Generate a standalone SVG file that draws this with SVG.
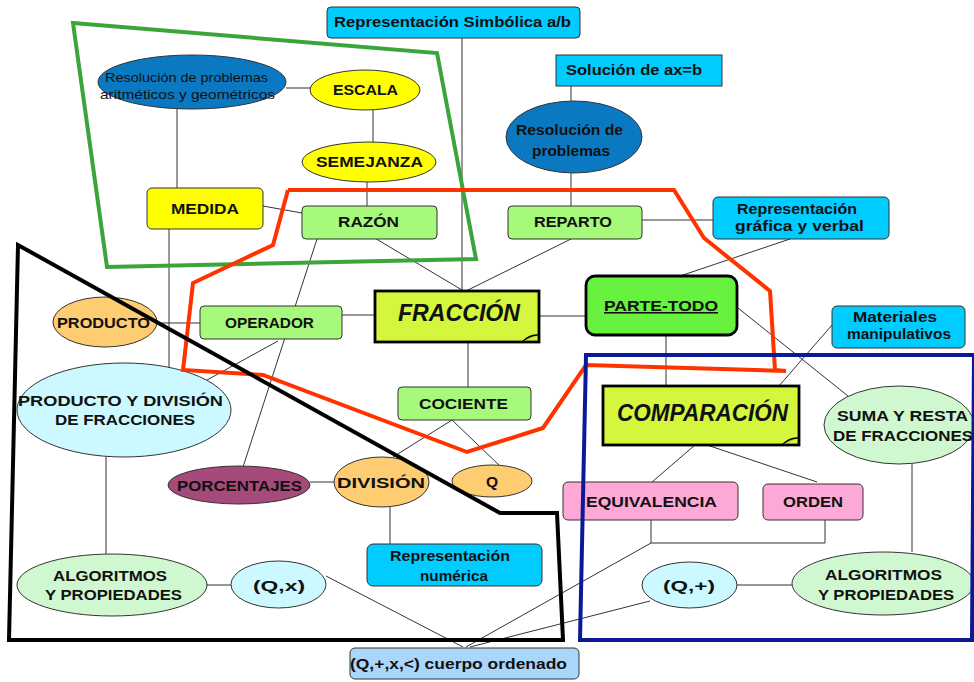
<svg xmlns="http://www.w3.org/2000/svg" width="974" height="682" viewBox="0 0 974 682">
<style>
.t{font-family:"Liberation Sans",Arial,sans-serif;font-weight:bold;font-size:15.5px;text-anchor:middle;fill:#111}
.s{font-size:13.5px;font-weight:normal}
.big{font-size:24px;font-style:italic}
.b{stroke:#333;stroke-width:1}
.k{stroke:#000;stroke-width:2.8}
.cyan{fill:#00ccff}
.lg{fill:#a6f97b}
.yel{fill:#ffff00}
.org{fill:#fecc71}
.lc{fill:#ccf9ff}
.pg{fill:#d0f8d0}
.pk{fill:#fda8d6}
.fr{fill:#d4f63c}
.conn line,.conn path{stroke:#333;stroke-width:1;fill:none}
.zone{fill:none;stroke-width:4;stroke-linejoin:miter}
</style>
<rect width="974" height="682" fill="#ffffff"/>
<g class="conn" id="connectors">
<line x1="462" y1="38" x2="462" y2="291"/>
<line x1="571" y1="86" x2="571" y2="101"/>
<line x1="571" y1="173" x2="571" y2="206"/>
<line x1="373" y1="237" x2="462" y2="290"/>
<line x1="571" y1="239" x2="466" y2="291"/>
<line x1="642" y1="220" x2="713" y2="220"/>
<line x1="790" y1="239" x2="680" y2="276"/>
<line x1="286" y1="88" x2="310" y2="88"/>
<line x1="373" y1="110" x2="373" y2="142"/>
<line x1="367" y1="182" x2="367" y2="206"/>
<line x1="177" y1="109" x2="177" y2="188"/>
<line x1="263" y1="206" x2="302" y2="213"/>
<line x1="169" y1="229" x2="169" y2="370"/>
<line x1="317" y1="239" x2="243" y2="467"/>
<line x1="157" y1="323" x2="200" y2="323"/>
<line x1="342" y1="315" x2="375" y2="315"/>
<line x1="278" y1="341" x2="207" y2="380"/>
<line x1="539" y1="316" x2="586" y2="316"/>
<line x1="468" y1="342" x2="468" y2="387"/>
<line x1="452" y1="420" x2="393" y2="457"/>
<line x1="452" y1="420" x2="500" y2="466"/>
<line x1="310" y1="482" x2="334" y2="482"/>
<line x1="390" y1="507" x2="390" y2="544"/>
<line x1="106" y1="457" x2="106" y2="554"/>
<line x1="207" y1="585" x2="231" y2="585"/>
<line x1="326" y1="576" x2="463" y2="647"/>
<line x1="666" y1="331" x2="666" y2="386"/>
<line x1="738" y1="308" x2="848" y2="396"/>
<line x1="832" y1="325" x2="779" y2="386"/>
<line x1="695" y1="445" x2="652" y2="482"/>
<line x1="707" y1="445" x2="817" y2="482"/>
<line x1="912" y1="464" x2="912" y2="552"/>
<path d="M651,520 V543 H825 V520"/>
<line x1="651" y1="543" x2="466" y2="647"/>
<line x1="650" y1="601" x2="470" y2="647"/>
<line x1="737" y1="585" x2="792" y2="585"/>
</g>
<g id="n-simbolica"><rect x="327" y="7" width="253" height="31" rx="4" class="cyan b"/><text class="t" x="452.5" y="27" textLength="237" lengthAdjust="spacingAndGlyphs">Representación Simbólica a/b</text></g>
<g id="n-solucion"><rect x="556" y="55" width="166" height="31" class="cyan b"/><text class="t" x="634" y="75" textLength="136" lengthAdjust="spacingAndGlyphs">Solución de ax=b</text></g>
<g id="n-resolucion"><ellipse cx="574" cy="137" rx="68" ry="36" fill="#0b79c2" class="b"/><text class="t" x="569.5" y="135" textLength="107" lengthAdjust="spacingAndGlyphs">Resolución de</text><text class="t" x="571" y="156" textLength="78" lengthAdjust="spacingAndGlyphs">problemas</text></g>
<g id="n-resarit"><ellipse cx="192" cy="82" rx="94" ry="27" fill="#0b79c2" class="b"/><text class="t s" x="186.5" y="82" textLength="163" lengthAdjust="spacingAndGlyphs">Resolución de problemas</text><text class="t s" x="187.5" y="99" textLength="175" lengthAdjust="spacingAndGlyphs">aritméticos y geométricos</text></g>
<g id="n-escala"><ellipse cx="365" cy="90" rx="55" ry="20" class="yel b"/><text class="t" x="365.5" y="95" textLength="65" lengthAdjust="spacingAndGlyphs">ESCALA</text></g>
<g id="n-semejanza"><ellipse cx="369" cy="162" rx="67" ry="20" class="yel b"/><text class="t" x="369.5" y="167" textLength="107" lengthAdjust="spacingAndGlyphs">SEMEJANZA</text></g>
<g id="n-medida"><rect x="147" y="188" width="116" height="41" rx="5" class="yel b"/><text class="t" x="205" y="214" textLength="68" lengthAdjust="spacingAndGlyphs">MEDIDA</text></g>
<g id="n-razon"><rect x="302" y="206" width="135" height="33" rx="4" class="lg b"/><text class="t" x="368.5" y="227" textLength="61" lengthAdjust="spacingAndGlyphs">RAZÓN</text></g>
<g id="n-reparto"><rect x="508" y="206" width="134" height="33" rx="4" class="lg b"/><text class="t" x="573" y="227" textLength="78" lengthAdjust="spacingAndGlyphs">REPARTO</text></g>
<g id="n-grafica"><rect x="713" y="197" width="176" height="42" rx="5" class="cyan b"/><text class="t" x="797" y="214" textLength="120" lengthAdjust="spacingAndGlyphs">Representación</text><text class="t" x="799.5" y="231" textLength="129" lengthAdjust="spacingAndGlyphs">gráfica y verbal</text></g>
<g id="n-fraccion"><rect x="375" y="291" width="164" height="51" class="fr k"/><path d="M522,342 Q530,334 539,335" fill="#b8cf20" stroke="#000" stroke-width="1.5"/><text class="t big" x="459" y="321" textLength="122" lengthAdjust="spacingAndGlyphs">FRACCIÓN</text></g>
<g id="n-operador"><rect x="200" y="306" width="142" height="33" rx="4" class="lg b"/><text class="t" x="269.5" y="328" textLength="89" lengthAdjust="spacingAndGlyphs">OPERADOR</text></g>
<g id="n-producto"><ellipse cx="105" cy="322" rx="52" ry="25" class="org b"/><text class="t" x="103.5" y="328" textLength="93" lengthAdjust="spacingAndGlyphs">PRODUCTO</text></g>
<g id="n-proddiv"><ellipse cx="124" cy="410" rx="107" ry="47" class="lc b"/><text class="t" x="120.5" y="406" textLength="205" lengthAdjust="spacingAndGlyphs">PRODUCTO Y DIVISIÓN</text><text class="t" x="125" y="425" textLength="140" lengthAdjust="spacingAndGlyphs">DE FRACCIONES</text></g>
<g id="n-partetodo"><rect x="586" y="276" width="151" height="59" rx="9" fill="#66f23f" class="k"/><text class="t" x="661" y="311" font-weight="normal" text-decoration="underline" textLength="114" lengthAdjust="spacingAndGlyphs">PARTE-TODO</text></g>
<g id="n-materiales"><rect x="832" y="306" width="133" height="42" rx="5" class="cyan b"/><text class="t" x="895" y="322" textLength="84" lengthAdjust="spacingAndGlyphs">Materiales</text><text class="t" x="899" y="339" textLength="104" lengthAdjust="spacingAndGlyphs">manipulativos</text></g>
<g id="n-comparacion"><rect x="603" y="386" width="196" height="59" class="fr k"/><path d="M782,445 Q790,437 799,438" fill="#b8cf20" stroke="#000" stroke-width="1.5"/><text class="t big" x="702.5" y="421" textLength="171" lengthAdjust="spacingAndGlyphs">COMPARACIÓN</text></g>
<g id="n-sumaresta"><ellipse cx="899" cy="425" rx="75" ry="39" class="pg b"/><text class="t" x="902.5" y="421" textLength="131" lengthAdjust="spacingAndGlyphs">SUMA Y RESTA</text><text class="t" x="903" y="441" textLength="140" lengthAdjust="spacingAndGlyphs">DE FRACCIONES</text></g>
<g id="n-cociente"><rect x="398" y="387" width="133" height="33" rx="4" class="lg b"/><text class="t" x="463.5" y="409" textLength="89" lengthAdjust="spacingAndGlyphs">COCIENTE</text></g>
<g id="n-division"><ellipse cx="381.5" cy="482" rx="47.5" ry="25" class="org b"/><text class="t" x="381" y="488" textLength="88" lengthAdjust="spacingAndGlyphs">DIVISIÓN</text></g>
<g id="n-q"><ellipse cx="492" cy="481" rx="40" ry="16" class="org b"/><text class="t" x="492" y="487">Q</text></g>
<g id="n-porcentajes"><ellipse cx="239" cy="485" rx="71" ry="19" fill="#a54a7b" class="b"/><text class="t" x="239.5" y="491" textLength="125" lengthAdjust="spacingAndGlyphs">PORCENTAJES</text></g>
<g id="n-equivalencia"><rect x="563" y="482" width="175" height="38" rx="5" class="pk b"/><text class="t" x="651.5" y="507" textLength="131" lengthAdjust="spacingAndGlyphs">EQUIVALENCIA</text></g>
<g id="n-orden"><rect x="763" y="484" width="100" height="36" rx="5" class="pk b"/><text class="t" x="813" y="507" textLength="60" lengthAdjust="spacingAndGlyphs">ORDEN</text></g>
<g id="n-numerica"><rect x="367" y="544" width="175" height="42" rx="6" class="cyan b"/><text class="t" x="450" y="561" textLength="120" lengthAdjust="spacingAndGlyphs">Representación</text><text class="t" x="454" y="581" textLength="68" lengthAdjust="spacingAndGlyphs">numérica</text></g>
<g id="n-algizq"><ellipse cx="112" cy="585" rx="95" ry="31" class="pg b"/><text class="t" x="110" y="581" textLength="114" lengthAdjust="spacingAndGlyphs">ALGORITMOS</text><text class="t" x="113.5" y="600" textLength="137" lengthAdjust="spacingAndGlyphs">Y PROPIEDADES</text></g>
<g id="n-qx"><ellipse cx="278.5" cy="584.5" rx="47.5" ry="23.5" class="lc b"/><text class="t" x="279" y="591" textLength="52" lengthAdjust="spacingAndGlyphs">(Q,x)</text></g>
<g id="n-qmas"><ellipse cx="689.5" cy="585" rx="47.5" ry="23" class="lc b"/><text class="t" x="689" y="591" textLength="52" lengthAdjust="spacingAndGlyphs">(Q,+)</text></g>
<g id="n-algder"><ellipse cx="883" cy="583.5" rx="91" ry="31.5" class="pg b"/><text class="t" x="883.5" y="580" textLength="117" lengthAdjust="spacingAndGlyphs">ALGORITMOS</text><text class="t" x="886" y="600" textLength="136" lengthAdjust="spacingAndGlyphs">Y PROPIEDADES</text></g>
<g id="n-cuerpo"><rect x="350" y="648" width="229" height="31" rx="5" fill="#aad6fb" class="b"/><text class="t" x="458.5" y="669" textLength="217" lengthAdjust="spacingAndGlyphs">(Q,+,x,&lt;) cuerpo ordenado</text></g>
<g id="zones">
<polygon class="zone" stroke="#3aa63a" points="73,23 437,53 476,259 107,267"/>
<polyline class="zone" stroke="#ff3300" points="288,190 674,190 704,238 770,291 775,370 786,371 586,365 543,428 467,452 263,375 183,370 193,283 273,245 288,190"/>
<polygon class="zone" stroke="#000000" points="18,245 500,513 557,513 563,640 9,640"/>
<polygon class="zone" stroke="#0a1a96" points="586,355 974,355 972,640 580,640"/>
</g>
</svg>
